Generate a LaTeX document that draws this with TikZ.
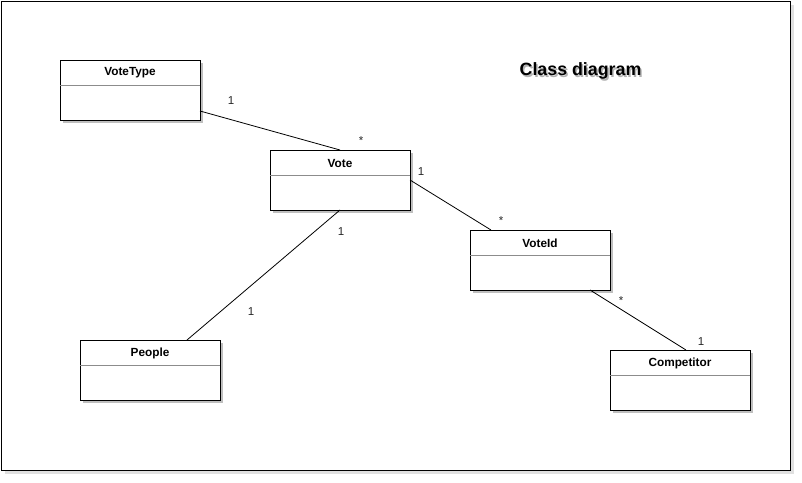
\documentclass[tikz,border=0pt]{standalone}
\usepackage{fontspec}
\setmainfont{Liberation Sans}
\usetikzlibrary{calc,shadows}
\tikzset{
  frame/.style={draw=black, line width=1pt, fill=white,
    drop shadow={shadow xshift=3pt, shadow yshift=-3pt, opacity=0.12, fill=black}},
  classbox/.style={draw=black, line width=1pt, fill=white, minimum width=140pt, minimum height=60pt,
    inner sep=0pt, outer sep=0pt,
    drop shadow={shadow xshift=2.5pt, shadow yshift=-2.5pt, opacity=0.25, fill=black}},
  classname/.style={font=\fontsize{11.8}{13}\selectfont\bfseries, inner sep=0pt, anchor=center},
  divider/.style={draw=black!45, line width=0.8pt},
  assoc/.style={draw=black, line width=0.8pt},
  mult/.style={font=\fontsize{11.5}{13}\selectfont, inner sep=0pt, text=black!85},
}
\newcommand{\shadowtext}[1]{\rlap{\hspace{1.5pt}\raisebox{-2.5pt}{\textcolor{black!30}{#1}}}#1}
\begin{document}
\begin{tikzpicture}[x=1pt, y=-1pt]
\useasboundingbox (0,0) rectangle (802,482);
\node[frame, minimum width=789pt, minimum height=469pt, inner sep=0pt, anchor=north west] (fr) at (1,1) {};

% title
\node[font=\fontsize{17.8}{20}\selectfont\bfseries, inner sep=0pt] (title) at (580.5,72) {\shadowtext{Class diagram}};

% classes
\foreach \n/\cx/\cy/\t in {vt/130/90/VoteType, vo/340/180/Vote, vid/540/260/VoteId, pe/150/370/People, co/680/380/Competitor}{
  \node[classbox] (\n) at (\cx,\cy) {};
  \draw[divider] ($(\n.north west)+(0,25)$) -- ($(\n.north east)+(0,25)$);
  \node[classname] (\n-name) at ($(\n.north)+(0,13)$) {\t};
}

% associations
\draw[assoc] ($(vt.south east)+(0,-9)$) -- (vo.north);
\draw[assoc] (vo.east) -- ($(vid.north)+(-49,0)$);
\draw[assoc] (vo.south) -- ($(pe.north)+(37,0)$);
\draw[assoc] ($(vid.south)+(50,0)$) -- ($(co.north)+(6,0)$);

% multiplicities
\node[mult] (m1) at (231,101) {1};
\node[mult] (m2) at (361,141) {*};
\node[mult] (m3) at (421,172) {1};
\node[mult] (m4) at (501,221) {*};
\node[mult] (m5) at (341,232) {1};
\node[mult] (m6) at (251,312) {1};
\node[mult] (m7) at (621,301) {*};
\node[mult] (m8) at (701,342) {1};
\end{tikzpicture}
\end{document}
